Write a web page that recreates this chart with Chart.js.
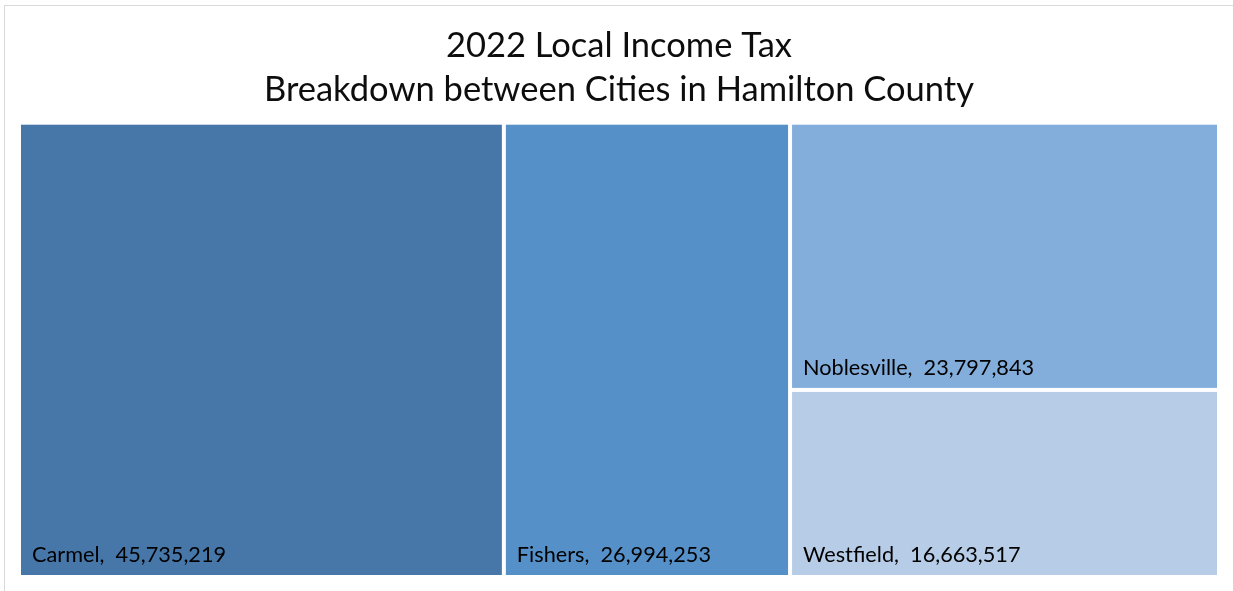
<!DOCTYPE html>
<html>
<head>
<meta charset="utf-8">
<title>2022 Local Income Tax</title>
<script src="https://cdn.jsdelivr.net/npm/chart.js@4.4.0/dist/chart.umd.min.js"></script>
<style>
  html, body { margin: 0; padding: 0; background: #fff; overflow: hidden; }
  #frame { position: absolute; left: 4px; top: 5px; width: 1300px; height: 700px; border: 1px solid #d9d9d9; pointer-events: none; }
  canvas { position: absolute; left: 0; top: 0; }
</style>
</head>
<body>
<canvas id="myChart" width="1233" height="591"></canvas>
<div id="frame"></div>
<script>
const cities = ['Carmel', 'Fishers', 'Noblesville', 'Westfield']
const taxAmounts = [45735219, 26994253, 23797843, 16663517]
const tileColors = ['#4677a8', '#5591c8', '#83aedb', '#b7cde7']
const titleLines = ['2022 Local Income Tax', 'Breakdown between Cities in Hamilton County']

const FONT = 'Lato, "Open Sans", sans-serif'

// squarified treemap: returns {i, x, y, w, h} boxes inside the given rect
function worst(row, side) {
    let s = 0, mx = -Infinity, mn = Infinity
    row.forEach(r => { s += r.a; mx = Math.max(mx, r.a); mn = Math.min(mn, r.a) })
    return Math.max(side * side * mx / (s * s), (s * s) / (side * side * mn))
}

function placeRow(row, rect, out) {
    let s = row.reduce((t, r) => t + r.a, 0)
    if (rect.w >= rect.h) {
        let colW = s / rect.h
        let y = rect.y
        row.forEach(r => { let h = r.a / colW; out.push({ i: r.i, x: rect.x, y: y, w: colW, h: h }); y += h })
        return { x: rect.x + colW, y: rect.y, w: rect.w - colW, h: rect.h }
    }
    let rowH = s / rect.w
    let x = rect.x
    row.forEach(r => { let w = r.a / rowH; out.push({ i: r.i, x: x, y: rect.y, w: w, h: rowH }); x += w })
    return { x: rect.x, y: rect.y + rowH, w: rect.w, h: rect.h - rowH }
}

function squarify(values, w, h) {
    let total = values.reduce((a, b) => a + b, 0)
    let items = values.map((v, i) => ({ i: i, a: v / total * w * h }))
    let rect = { x: 0, y: 0, w: w, h: h }
    let out = []
    let row = []
    while (items.length) {
        let side = Math.min(rect.w, rect.h)
        let next = items[0]
        if (row.length === 0 || worst(row.concat(next), side) <= worst(row, side)) {
            row.push(next)
            items.shift()
        } else {
            rect = placeRow(row, rect, out)
            row = []
        }
    }
    if (row.length) placeRow(row, rect, out)
    return out
}

const treemapTiles = {
    id: 'treemapTiles',
    afterDatasetsDraw(chart) {
        const { ctx, chartArea, scales } = chart
        const aw = chartArea.right - chartArea.left
        const ah = chartArea.bottom - chartArea.top
        // layout in value space (0..1 on both axes), keeping the area's aspect
        const boxes = squarify(taxAmounts, aw, ah).map(b => ({
            i: b.i, x0: b.x / aw, x1: (b.x + b.w) / aw, y0: b.y / ah, y1: (b.y + b.h) / ah
        }))
        const gap = 2
        ctx.save()
        boxes.forEach(b => {
            const left = scales.x.getPixelForValue(b.x0) + gap
            const right = scales.x.getPixelForValue(b.x1) - gap
            const top = scales.y.getPixelForValue(b.y0) + gap
            const bottom = scales.y.getPixelForValue(b.y1) - gap
            ctx.fillStyle = tileColors[b.i]
            ctx.fillRect(left, top, right - left, bottom - top)

            ctx.fillStyle = '#000'
            ctx.font = '21.7px ' + FONT
            ctx.textAlign = 'left'
            ctx.textBaseline = 'alphabetic'
            ctx.fillText(cities[b.i] + ',  ' + taxAmounts[b.i].toLocaleString('en-US'), left + 11, bottom - 13)
        })
        ctx.restore()
    }
}

const ctx = document.getElementById('myChart')

const data = {
    labels: cities,
    datasets: [{
        label: '2022 Local Income Tax',
        data: taxAmounts.map((v, i) => ({ x: 0, y: 0, v: v })),
        pointRadius: 0,
        showLine: false
    }]
}

const config = {
    type: 'scatter',
    data: data,
    options: {
        responsive: false,
        animation: false,
        devicePixelRatio: 1,
        events: [],
        layout: { padding: { left: 19, right: 14, top: 0, bottom: 14 } },
        scales: {
            x: { display: false, min: 0, max: 1 },
            y: { display: false, min: 0, max: 1, reverse: true }
        },
        plugins: {
            legend: { display: false },
            tooltip: { enabled: false },
            title: {
                display: true,
                text: titleLines,
                color: '#0d0d0d',
                font: { family: FONT, size: 34.5, weight: 'normal', lineHeight: 1.3 },
                padding: { top: 23, bottom: 10 }
            }
        }
    },
    plugins: [treemapTiles]
}

const myChart = new Chart(ctx, config)
</script>
</body>
</html>
